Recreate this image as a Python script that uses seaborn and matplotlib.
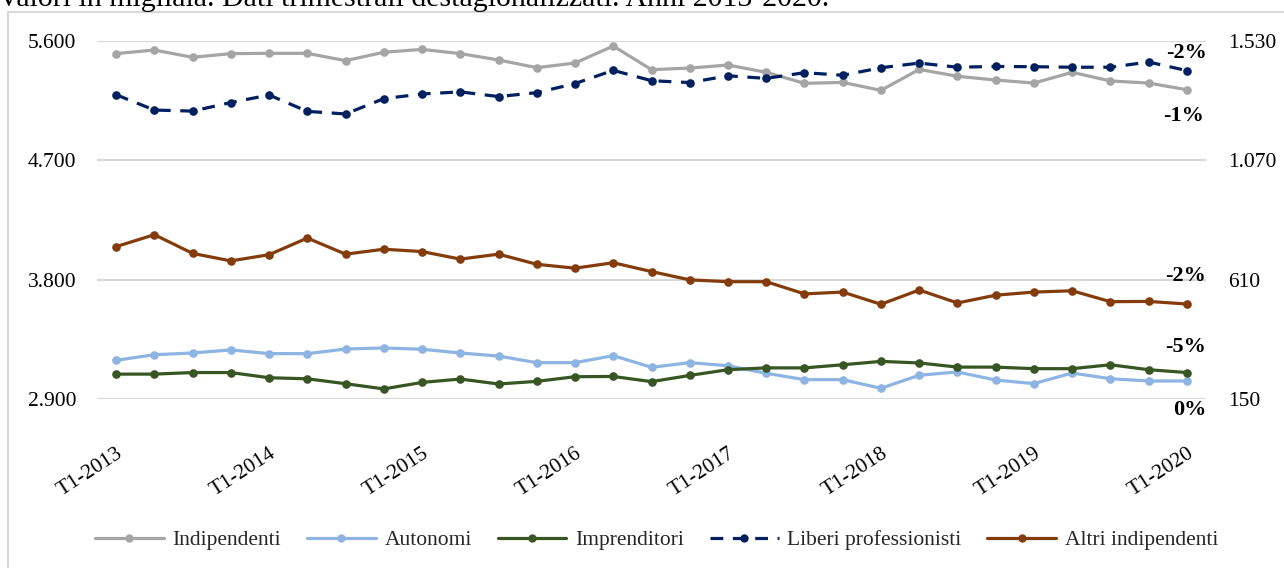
import numpy as np
import pandas as pd
import matplotlib
matplotlib.use("Agg")
import matplotlib.pyplot as plt
import seaborn as sns
from matplotlib.lines import Line2D

# data (migliaia), quarters T1-2013 .. T1-2020
quarters = [f"T{q}-{y}" for y in range(2013, 2021) for q in range(1, 5)][:29]

indipendenti = [5505, 5532, 5477, 5505, 5507, 5507, 5452, 5515, 5537, 5505,
                5457, 5399, 5434, 5562, 5384, 5396, 5419, 5364, 5281, 5288,
                5228, 5386, 5334, 5306, 5283, 5364, 5299, 5283, 5233]
autonomi = [3194, 3236, 3249, 3272, 3244, 3244, 3279, 3287, 3277, 3249,
            3226, 3176, 3176, 3229, 3141, 3176, 3153, 3096, 3048, 3048,
            2983, 3081, 3106, 3045, 3018, 3098, 3055, 3038, 3038]
imprenditori = [247, 247, 253, 253, 233, 229, 210, 190, 215, 228,
                209, 219, 237, 238, 218, 242, 264, 271, 271, 283,
                296, 290, 274, 274, 268, 268, 283, 264, 253]
liberi = [1323, 1264, 1260, 1293, 1322, 1259, 1249, 1308, 1326, 1334,
          1316, 1331, 1366, 1417, 1377, 1370, 1396, 1386, 1408, 1398,
          1427, 1445, 1429, 1432, 1431, 1429, 1429, 1449, 1416]
altri = [738, 784, 712, 683, 707, 771, 709, 728, 719, 690,
         709, 670, 655, 676, 642, 610, 603, 603, 556, 563,
         516, 571, 521, 551, 563, 568, 526, 527, 517]

left_ticks = [2900, 3800, 4700, 5600]
right_ticks = [150, 610, 1070, 1530]
pct_labels = ["-2%", "-1%", "-2%", "-5%", "0%"]
title = "Valori in migliaia. Dati trimestrali destagionalizzati. Anni 2013-2020."

sns.set_style("white")
plt.rcParams['font.family'] = ['Liberation Serif', 'DejaVu Serif']

fig = plt.figure(figsize=(12.84, 5.68), dpi=100)
W, H = 1284, 568
ax = fig.add_axes([97 / W, 1 - 399.3 / H, (1206 - 97) / W, (399.3 - 41) / H])
ax2 = ax.twinx()

x = np.arange(len(quarters))
lw = 2.3
ms = 6.2
common = dict(marker="o", markersize=ms, markeredgewidth=0, linewidth=lw)

sns.lineplot(x=x, y=indipendenti, ax=ax, color="#A5A5A5", label="Indipendenti", **common)
sns.lineplot(x=x, y=autonomi, ax=ax, color="#8DB4E2", label="Autonomi", **common)
sns.lineplot(x=x, y=imprenditori, ax=ax2, color="#375623", label="Imprenditori", **common)
sns.lineplot(x=x, y=liberi, ax=ax2, color="#002060", label="Liberi professionisti",
             linestyle=(0, (4, 3)), **common)
sns.lineplot(x=x, y=altri, ax=ax2, color="#843C0C", label="Altri indipendenti", **common)

h1, l1 = ax.get_legend_handles_labels()
h2, l2 = ax2.get_legend_handles_labels()
for a in (ax, ax2):
    if a.get_legend() is not None:
        a.get_legend().remove()

ax.set_xlim(-0.5, len(quarters) - 0.5)
ax.set_ylim(left_ticks[0], left_ticks[-1])
ax2.set_ylim(right_ticks[0], right_ticks[-1])

fmt = lambda v: f"{v:,}".replace(",", ".")
ax.set_yticks(left_ticks)
ax.set_yticklabels([fmt(v) for v in left_ticks])
ax2.set_yticks(right_ticks)
ax2.set_yticklabels([fmt(v) for v in right_ticks])

ax.set_xticks(x[::4])
ax.set_xticklabels(quarters[::4], rotation=33, ha="right", va="top",
                   rotation_mode="anchor")
ax.tick_params(axis="x", length=0, pad=32, labelsize=15.5, colors="#000000")
ax.tick_params(axis="y", length=0, pad=15, labelsize=15.5, colors="#000000")
ax2.tick_params(axis="y", length=0, pad=16, labelsize=15.5, colors="#000000")

ax.yaxis.grid(True, color="#D9D9D9", linewidth=1.6)
ax.xaxis.grid(False)
ax2.grid(False)
for a in (ax, ax2):
    for s in a.spines.values():
        s.set_visible(False)
    a.set_xlabel("")
    a.set_ylabel("")
ax.patch.set_alpha(0)
ax2.patch.set_alpha(0)

# legend at the bottom
leg = fig.legend(h1 + h2, l1 + l2, loc="center", bbox_to_anchor=(656.5 / W, 1 - 540 / H),
                 ncol=5, frameon=False, fontsize=15.5, handlelength=3.2,
                 handletextpad=0.4, columnspacing=1.2)
for ln in leg.get_lines():
    ln.set_markersize(6)

# variation labels on the right
pct_pos = [(1207, 53), (1204, 116), (1206, 276), (1206, 347), (1207, 410)]
for txt, (px, py) in zip(pct_labels, pct_pos):
    fig.text(px / W, 1 - py / H, txt, ha="right", va="center",
             fontsize=16, fontweight="bold", color="#000000")

# title, cut by the top edge as in the source image
fig.text(-2 / W, 1 - 6 / H, title, ha="left", va="baseline", fontsize=21.5, color="#000000")

# chart frame
fig.add_artist(Line2D([8 / W, 8 / W], [0, 1 - 12 / H], transform=fig.transFigure,
                      color="#D9D9D9", linewidth=1.5))
fig.add_artist(Line2D([8 / W, 1], [1 - 12 / H, 1 - 12 / H], transform=fig.transFigure,
                      color="#D9D9D9", linewidth=1.5))

fig.savefig("out.png", dpi=100)
